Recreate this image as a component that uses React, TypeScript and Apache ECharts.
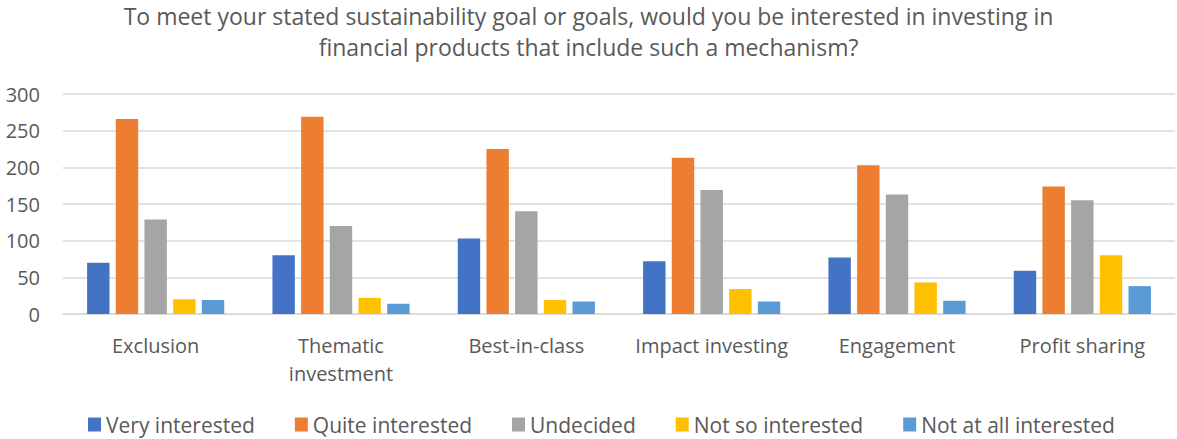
import React, { useEffect, useRef } from "react";
import * as echarts from "echarts";

const categories = ["Exclusion", "Thematic\ninvestment", "Best-in-class", "Impact investing", "Engagement", "Profit sharing"];
const seriesNames = ["Very interested", "Quite interested", "Undecided", "Not so interested", "Not at all interested"];
const veryInterested = [70, 80, 103, 72, 77, 59];
const quiteInterested = [266, 269, 225, 213, 203, 174];
const undecided = [129, 120, 140, 169, 163, 155];
const notSoInterested = [20, 22, 19, 34, 43, 80];
const notAtAllInterested = [19, 14, 17, 17, 18, 38];
const colors = ["#4472C4", "#ED7D31", "#A5A5A5", "#FFC000", "#5B9BD5"];
const titleLine1 = "To meet your stated sustainability goal or goals, would you be interested in investing in";
const titleLine2 = "financial products that include such a mechanism?";

const FONT = "'Open Sans', sans-serif";

export default function App() {
  const ref = useRef<HTMLDivElement>(null);
  useEffect(() => {
    const chart = echarts.init(ref.current!, null, { renderer: "svg" });
    const values = [veryInterested, quiteInterested, undecided, notSoInterested, notAtAllInterested];
    const titleStyle = { fontFamily: FONT, fontSize: 23, fontWeight: "normal", color: "#595959", lineHeight: 32 };
    chart.setOption({
      animation: false,
      textStyle: { fontFamily: FONT },
      title: [
        { text: titleLine1, left: "center", top: 0, padding: 0, textStyle: titleStyle },
        { text: titleLine2, left: "center", top: 31, padding: 0, textStyle: titleStyle },
      ],
      legend: {
        data: seriesNames,
        bottom: 0,
        left: 88,
        padding: 0,
        itemWidth: 13,
        itemHeight: 14,
        itemGap: 40,
        icon: "rect",
        textStyle: { fontFamily: FONT, fontSize: 21, color: "#595959", lineHeight: 29 },
      },
      grid: { left: 63, right: 2, top: 94, bottom: 125 },
      xAxis: {
        type: "category",
        data: categories,
        axisLine: { lineStyle: { color: "#d9d9d9", width: 1.5 } },
        axisTick: { show: false },
        axisLabel: { interval: 0, fontFamily: FONT, fontSize: 20, color: "#595959", margin: 17, lineHeight: 28 },
      },
      yAxis: {
        type: "value",
        min: 0,
        max: 300,
        interval: 50,
        axisLine: { show: false },
        axisTick: { show: false },
        splitLine: { lineStyle: { color: "#d9d9d9", width: 1.5 } },
        axisLabel: { fontFamily: FONT, fontSize: 20, color: "#595959", margin: 23 },
      },
      series: seriesNames.map((name, i) => ({
        name,
        type: "bar",
        data: values[i],
        barGap: "28%",
        barCategoryGap: "26%",
        itemStyle: { color: colors[i] },
      })),
    });
    return () => chart.dispose();
  }, []);
  return <div ref={ref} style={{ width: 1177, height: 439, position: "absolute", left: 0, top: 0 }} />;
}
